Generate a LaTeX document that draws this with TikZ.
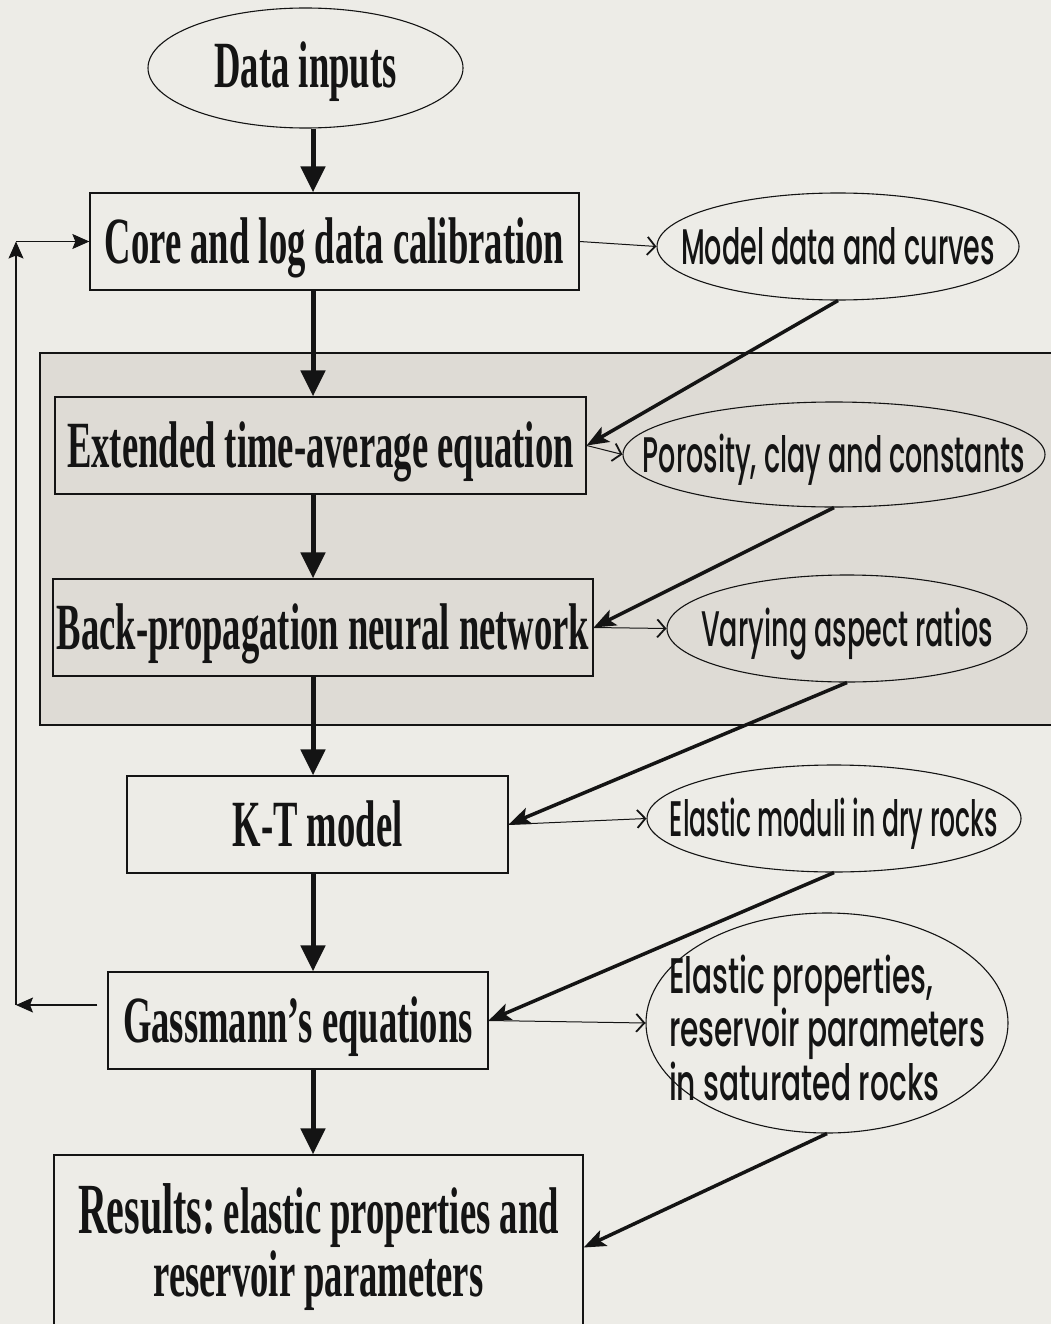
\documentclass[tikz,border=0pt]{standalone}
\usepackage{fontspec}
\usepackage{xcolor}
\usetikzlibrary{shapes.geometric, arrows.meta, positioning, calc}
\newfontfamily\boxfont{Liberation Serif}[FakeStretch=0.555]
\newfontfamily\ovalfont{Poppins}[UprightFont={* Medium}, FakeStretch=0.54]
\definecolor{paper}{HTML}{EDECE7}
\definecolor{band}{HTML}{DEDBD5}
\definecolor{ink}{HTML}{141414}
\newcommand{\nowidth}[1]{\makebox[0pt]{#1}}

\begin{document}
\begin{tikzpicture}[x=1pt, y=-1pt,
    serif/.style={font=\boxfont\bfseries\fontsize{66}{63}\selectfont, text=ink},
    box/.style={serif, rectangle, draw=ink, line width=1.3pt, inner sep=0pt},
    stage/.style={box, text height=44pt, text depth=0pt},
    oval/.style={ellipse, draw=ink, line width=1.1pt, inner sep=0pt,
                 font=\ovalfont\fontsize{50}{50}\selectfont, text=ink,
                 text height=35pt, text depth=0pt},
    flow/.style={-{Triangle[length=26pt, width=24pt]}, line width=5pt, draw=ink},
    feed/.style={-{Stealth[length=22pt, width=17pt, inset=5pt]}, line width=3.5pt, draw=ink},
    link/.style={-{Straight Barb[length=8pt, width=18pt, line width=1.8pt]}, line width=1pt, draw=ink},
    back/.style={-{Stealth[length=17pt, width=15pt, inset=3pt]}, line width=1.2pt, draw=ink}
]
\fill[paper] (0,0) rectangle (1051,1324);
\useasboundingbox (0,0) rectangle (1051,1324);
\clip (0,0) rectangle (1051,1324);

% shaded group of the two calibration steps
\filldraw[fill=band, draw=ink, line width=1.2pt] (40,353) rectangle (1070,725);

\node[oval, serif, text height=40pt, minimum width=315pt, minimum height=120pt] (dat) at (305.5,68) {Data inputs};

\node[stage, minimum width=489pt, minimum height=97pt] (core) at (334.5,241.5) {Core and log data calibration};
\node[stage, minimum width=531pt, minimum height=97pt] (ext) at (320.5,445.5) {Extended time-average equation};
\node[stage, minimum width=540pt, minimum height=97pt] (bp) at (323,627.5) {Back-propagation neural network};
\node[stage, minimum width=381pt, minimum height=97pt] (kt) at (317.5,824.5) {K-T model};
\node[stage, minimum width=380pt, minimum height=97pt] (gass) at (298,1020.5) {Gassmann’s equations};
\node[box, align=center, minimum width=529pt, minimum height=185pt] (res) at (318.5,1247.5)
    {{\fontsize{72}{63}\selectfont Results:}\hspace{8pt}elastic properties and\\reservoir parameters};

\node[oval, minimum width=362pt, minimum height=107pt] (curv) at (838,246.5) {\nowidth{Model data and curves}};
\node[oval, minimum width=422pt, minimum height=105pt] (poro) at (834,454.5) {\nowidth{Porosity, clay and constants}};
\node[oval, minimum width=360pt, minimum height=107pt] (asp) at (847,628.5) {\nowidth{Varying aspect ratios}};
\node[oval, minimum width=374pt, minimum height=107pt] (dry) at (834,818.5) {\nowidth{\scalebox{0.93}[1]{Elastic moduli in dry rocks}}};
\node[oval, text height=36pt, minimum width=362pt, minimum height=220pt] (sat) at (827,1023)
    {\nowidth{\scalebox{1.1}[1]{\begin{tabular}{@{}l@{}}Elastic properties,\\reservoir parameters\\in saturated rocks\end{tabular}}}};

% main chain
\coordinate (spine) at (313,0);
\draw[flow] (dat.south -| spine) -- (core.north -| spine);
\draw[flow] (core.south -| spine) -- (ext.north -| spine);
\draw[flow] (ext.south -| spine) -- (bp.north -| spine);
\draw[flow] (bp.south -| spine) -- (kt.north -| spine);
\draw[flow] (kt.south -| spine) -- (gass.north -| spine);
\draw[flow] (gass.south -| spine) -- (res.north -| spine);

% outputs to the right
\draw[link] (core.east) -- (curv.west);
\draw[link] (ext.east) -- (poro.west);
\draw[link] (bp.east) -- (asp.west);
\draw[link] (kt.east) -- (dry.west);
\draw[link] (gass.east) -- (sat.west);

% fed into the next step
\draw[feed] (curv.south) -- (ext.east);
\draw[feed] (poro.south) -- (bp.east);
\draw[feed] (asp.south) -- (kt.east);
\draw[feed] (dry.south) -- (gass.east);
\draw[feed] (sat.south) -- (res.east);

% feedback loop
\coordinate (fbtop) at (16,241.5);
\coordinate (fbbot) at (16,1005);
\draw[back] (gass.west |- fbbot) ++(-10,0) -- (fbbot);
\draw[back] (fbbot) -- (fbtop);
\draw[back] (fbtop) -- (core.west);

\end{tikzpicture}
\end{document}
